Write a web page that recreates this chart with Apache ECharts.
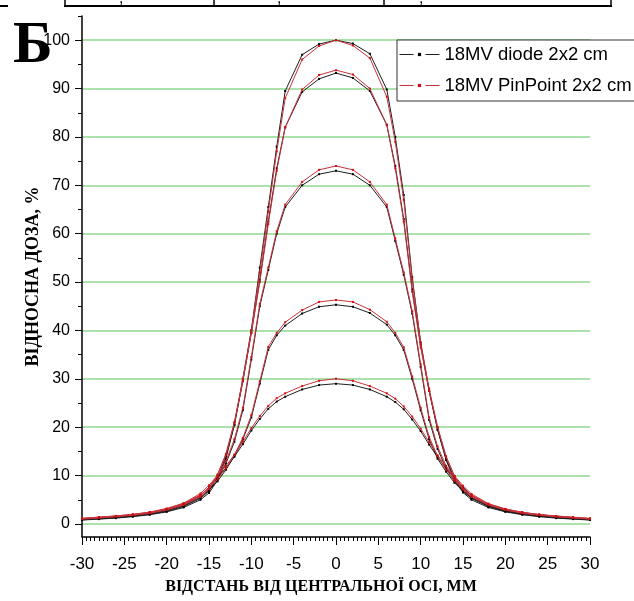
<!DOCTYPE html>
<html>
<head>
<meta charset="utf-8">
<script src="https://cdn.jsdelivr.net/npm/echarts@6/dist/echarts.min.js"></script>
<style>html,body{margin:0;padding:0;background:#fff}#c{width:634px;height:601px}</style>
</head>
<body>
<div id="c"></div>
<script>
// Distance from central axis, mm
const xs = [-30,-28,-26,-24,-22,-20,-18,-16,-15,-14,-13,-12,-11,-10,-9,-8,-7,-6,-4,-2,0,2,4,6,7,8,9,10,11,12,13,14,15,16,18,20,22,24,26,28,30];

// 18MV diode 2x2 cm (five depths)
const diode100 = [0.8,1.0,1.2,1.5,1.9,2.5,3.4,5.0,6.4,9.0,13.5,20.5,30,40,53,65.5,78,89.5,97,99.2,100, 99.3,97.2,89.8,80,68,51,37.5,27.5,19.5,13.2,9.0,6.5,5.0,3.4,2.5,1.9,1.5,1.2,1.0,0.8];
const diode93  = [0.85,1.05,1.3,1.6,2.0,2.6,3.6,5.3,6.8,9.5,14,20.5,29.5,39.5,50.5,62.5,73.5,82,89.3,92,93.2, 92.2,89.5,82.5,74,63,48.5,37,27.5,19.5,13.5,9.3,6.8,5.3,3.6,2.6,2.0,1.6,1.3,1.05,0.85];
const diode74  = [0.95,1.15,1.4,1.7,2.1,2.75,3.75,5.5,7.0,9.3,12.5,17,23.5,34,45,52.5,60,65.5,70,72.3,73, 72.3,70,65.5,58.5,51.5,43.5,32.5,21.5,15.5,11.5,8.8,6.8,5.4,3.7,2.7,2.1,1.7,1.4,1.15,0.95];
const diode46  = [1.0,1.2,1.45,1.75,2.2,2.85,3.9,5.6,7.0,8.8,11.2,14,17.5,22,29,36,39,41,43.5,44.9,45.3, 44.9,43.6,41.2,39,36,30,23.5,17.5,13.5,10.8,8.5,6.8,5.5,3.8,2.8,2.2,1.75,1.45,1.2,1.0];
const diode30  = [1.0,1.2,1.45,1.75,2.2,2.9,4.0,5.9,7.6,9.6,11.6,13.9,16.5,19.3,21.7,23.8,25.3,26.3,27.8,28.7,29, 28.7,27.8,26.3,25.2,23.7,21.6,19.2,16.4,13.8,11.5,9.5,7.6,5.9,4.0,2.9,2.2,1.75,1.45,1.2,1.0];

// 18MV PinPoint 2x2 cm (five depths)
const pin100 = [1.0,1.25,1.5,1.8,2.2,2.9,3.9,5.6,7.2,10,14.3,21,30,40,52,64.5,77,88,96,98.8,100, 98.9,96.3,88.3,79,67,50.5,37.5,28,20,13.8,9.8,7.1,5.6,3.9,2.9,2.2,1.8,1.5,1.25,1.0];
const pin93  = [1.05,1.3,1.55,1.85,2.3,3.0,4.0,5.9,7.5,10.2,14.5,21,29.5,39.5,50,62,73,82,89.8,92.8,93.8, 92.9,90,82.5,73.5,62.5,48,36.5,27.5,20,14,9.9,7.4,5.9,4.0,3.0,2.3,1.85,1.55,1.3,1.05];
const pin74  = [1.1,1.35,1.6,1.9,2.35,3.1,4.1,6.0,7.5,9.8,13,17.5,24,34.5,45.5,53,60.5,66,70.7,73.2,74, 73.2,70.7,66,59,52,44,33,22,16,12,9.3,7.2,5.8,4.0,3.0,2.35,1.9,1.6,1.35,1.1];
const pin46  = [1.15,1.4,1.65,1.95,2.4,3.1,4.2,6.0,7.4,9.2,11.5,14.3,17.8,22.5,29.5,36.6,39.5,41.7,44.2,45.9,46.3, 45.9,44.3,41.8,39.5,36.5,30.5,24,18,14,11.2,8.9,7.2,5.9,4.1,3.1,2.4,1.95,1.65,1.4,1.15];
const pin30  = [1.15,1.4,1.65,2.0,2.45,3.2,4.3,6.3,8.0,10,12,14.3,17,19.8,22.3,24.4,26,27,28.5,29.6,30, 29.6,28.5,27,25.9,24.3,22.2,19.7,16.9,14.2,11.9,9.9,7.9,6.2,4.2,3.1,2.4,1.95,1.6,1.35,1.1];

const legendNames = ['18MV diode 2x2 cm', '18MV PinPoint 2x2 cm'];
const yTickLabels = [0,10,20,30,40,50,60,70,80,90,100];
const yMinorTicks = [5,15,25,35,45,55,65,75,85,95,105];
const xTitle = 'ВІДСТАНЬ ВІД ЦЕНТРАЛЬНОЇ ОСІ, ММ';
const yTitle = 'ВІДНОСНА ДОЗА, %';
const panelLetter = 'Б';

const diodeSets = [diode100, diode93, diode74, diode46, diode30];
const pinSets = [pin100, pin93, pin74, pin46, pin30];

function pairs(arr){ return xs.map((x,i)=>[x, arr[i]]); }

const series = [];
diodeSets.forEach(a => series.push({
  name: legendNames[0], type: 'line', data: pairs(a),
  symbol: 'rect', symbolSize: 2, showSymbol: true,
  lineStyle: {color: '#1e1e1e', width: 1}, itemStyle: {color: '#000'},
  animation: false, z: 2
}));
pinSets.forEach(a => series.push({
  name: legendNames[1], type: 'line', data: pairs(a),
  symbol: 'rect', symbolSize: 2, showSymbol: true,
  lineStyle: {color: '#c8323c', width: 1}, itemStyle: {color: '#d01010'},
  animation: false, z: 3
}));

const chart = echarts.init(document.getElementById('c'), null, {renderer: 'canvas'});
chart.setOption({
  backgroundColor: '#fff',
  animation: false,
  grid: {left: 82, right: 44, top: 16, bottom: 64, containLabel: false},
  xAxis: {
    type: 'value', min: -30, max: 30, interval: 5,
    name: xTitle, nameLocation: 'middle', nameGap: 42, nameMoveOverlap: false,
    nameTextStyle: {fontFamily: 'Liberation Serif', fontWeight: 'bold', fontSize: 16, color: '#000', padding: [0, 30, 0, 0]},
    axisLine: {onZero: false, lineStyle: {color: '#000', width: 1.5}},
    axisTick: {inside: false, length: 8, lineStyle: {color: '#000', width: 1}},
    minorTick: {show: true, splitNumber: 10, length: 4, lineStyle: {color: '#000', width: 1}},
    axisLabel: {fontFamily: 'Liberation Sans', fontSize: 17, color: '#000', margin: 19},
    splitLine: {show: false}
  },
  yAxis: [{
    type: 'value', min: -2.7, max: 105,
    name: yTitle, nameLocation: 'middle', nameGap: 40, nameRotate: 90, nameMoveOverlap: false,
    nameTextStyle: {fontFamily: 'Liberation Serif', fontWeight: 'bold', fontSize: 18, color: '#000'},
    axisLine: {onZero: false, lineStyle: {color: '#000', width: 1.5}},
    axisTick: {inside: false, length: 7, customValues: yTickLabels, lineStyle: {color: '#000', width: 1}},
    axisLabel: {customValues: yTickLabels, fontFamily: 'Liberation Sans', fontSize: 16, color: '#000', margin: 12},
    splitLine: {show: true, lineStyle: {color: '#8fd88f', width: 1.5}}
  }, {
    type: 'value', min: -2.7, max: 105, position: 'left',
    axisLine: {show: false, onZero: false},
    axisTick: {show: true, inside: false, length: 4, customValues: yMinorTicks, lineStyle: {color: '#000', width: 1}},
    axisLabel: {show: false},
    splitLine: {show: false}
  }],
  legend: {
    data: legendNames, orient: 'vertical', left: 397, top: 40,
    padding: [5, 3, 6, 2], itemWidth: 40, itemHeight: 4, itemGap: 12,
    borderColor: '#333', borderWidth: 1, backgroundColor: '#fff',
    textStyle: {fontFamily: 'Liberation Sans', fontSize: 18.5, color: '#000', lineHeight: 18},
    lineStyle: {type: [14, 12], width: 1}
  },
  graphic: [
    {type: 'text', left: 13, top: 16, style: {text: panelLetter, font: 'bold 60px "Liberation Serif"', fill: '#000'}},
    {type: 'line', shape: {x1: 0, y1: 6, x2: 8, y2: 6}, style: {stroke: '#000', lineWidth: 2}},
    {type: 'line', shape: {x1: 64, y1: 6, x2: 612, y2: 6}, style: {stroke: '#000', lineWidth: 2}},
    {type: 'line', shape: {x1: 65, y1: 0, x2: 65, y2: 6}, style: {stroke: '#000', lineWidth: 1.5}},
    {type: 'line', shape: {x1: 214, y1: 0, x2: 214, y2: 6}, style: {stroke: '#000', lineWidth: 1.5}},
    {type: 'line', shape: {x1: 384, y1: 0, x2: 384, y2: 6}, style: {stroke: '#000', lineWidth: 1.5}},
    {type: 'line', shape: {x1: 611, y1: 0, x2: 611, y2: 6}, style: {stroke: '#000', lineWidth: 1.5}},
    {type: 'text', x: 119, y: -9, style: {text: ',', font: '16px "Liberation Sans"', fill: '#000'}},
    {type: 'text', x: 277, y: -9, style: {text: ',', font: '16px "Liberation Sans"', fill: '#000'}},
    {type: 'text', x: 419, y: -9, style: {text: ',', font: '16px "Liberation Sans"', fill: '#000'}}
  ],
  series: series
});
</script>
</body>
</html>
